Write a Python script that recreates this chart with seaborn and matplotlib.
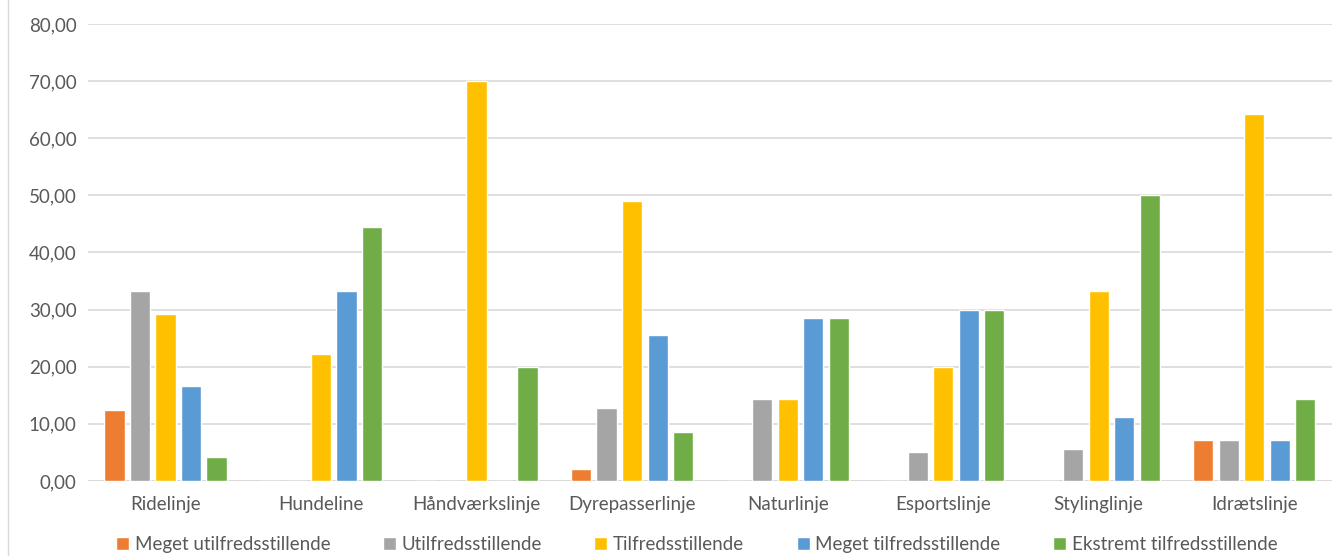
import matplotlib
matplotlib.use("Agg")
import matplotlib.pyplot as plt
from matplotlib.ticker import FuncFormatter
from matplotlib.lines import Line2D
import pandas as pd
import seaborn as sns

linjer = ["Ridelinje", "Hundeline", "Håndværkslinje", "Dyrepasserlinje",
          "Naturlinje", "Esportslinje", "Stylinglinje", "Idrætslinje"]
svar = ["Meget utilfredsstillende", "Utilfredsstillende", "Tilfredsstillende",
        "Meget tilfredsstillende", "Ekstremt tilfredsstillende"]

meget_utilfreds = [12.50, 0, 0, 2.13, 0, 0, 0, 7.14]
utilfreds = [33.33, 0, 0, 12.77, 14.29, 5.00, 5.56, 7.14]
tilfreds = [29.17, 22.22, 70.00, 48.94, 14.29, 20.00, 33.33, 64.29]
meget_tilfreds = [16.67, 33.33, 0, 25.53, 28.57, 30.00, 11.11, 7.14]
ekstremt_tilfreds = [4.17, 44.44, 20.00, 8.51, 28.57, 30.00, 50.00, 14.29]

farver = ["#ED7D31", "#A5A5A5", "#FFC000", "#5B9BD5", "#70AD47"]

rows = []
for navn, vals in zip(svar, [meget_utilfreds, utilfreds, tilfreds, meget_tilfreds, ekstremt_tilfreds]):
    for linje, v in zip(linjer, vals):
        rows.append({"linje": linje, "svar": navn, "procent": v})
df = pd.DataFrame(rows)

sns.set_style("white")
plt.rcParams["font.family"] = ["Lato", "DejaVu Sans"]
tekst = "#595959"

fig = plt.figure(figsize=(13.32, 5.56), dpi=100)
ax = fig.add_axes([0.066, 0.135, 0.934, 0.822])

sns.barplot(data=df, x="linje", y="procent", hue="svar", hue_order=svar,
            order=linjer, palette=farver, width=0.82, gap=0.2, ax=ax,
            saturation=1, errorbar=None)

ax.set_ylim(0, 80)
ax.set_yticks(range(0, 81, 10))
ax.yaxis.set_major_formatter(FuncFormatter(lambda v, p: f"{v:.2f}".replace(".", ",")))
ax.grid(axis="y", color="#D9D9D9", linewidth=1.2)
ax.set_axisbelow(True)
for s in ax.spines.values():
    s.set_visible(False)
ax.axhline(0, color="#D9D9D9", linewidth=1.5, zorder=0)
ax.set_xlabel("")
ax.set_ylabel("")
ax.tick_params(axis="both", length=0, labelsize=13.5, labelcolor=tekst, pad=8)
ax.tick_params(axis="x", pad=11)

handles, labels = ax.get_legend_handles_labels()
ax.get_legend().remove()
fig.legend(handles, labels, loc="lower center", bbox_to_anchor=(0.523, -0.025),
           ncol=5, frameon=False, fontsize=13.5, labelcolor=tekst,
           handlelength=0.7, handleheight=0.7, handletextpad=0.3, columnspacing=2.8)

fig.add_artist(Line2D([8 / 1332, 8 / 1332], [0, 1], color="#D9D9D9", linewidth=1,
                      transform=fig.transFigure))

fig.savefig("out.png", dpi=100)
